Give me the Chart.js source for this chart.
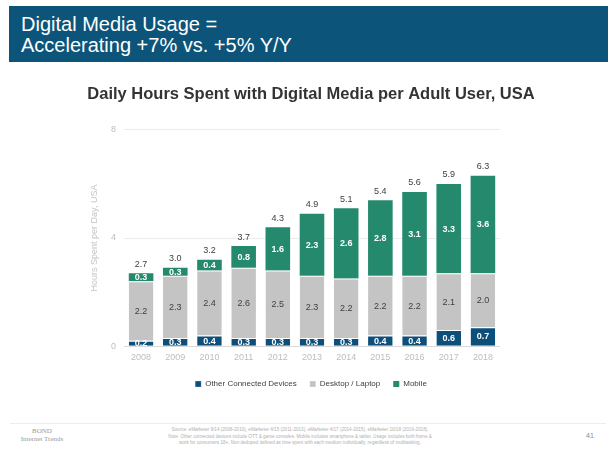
<!DOCTYPE html>
<html>
<head>
<meta charset="utf-8">
<script src="https://cdn.jsdelivr.net/npm/chart.js@4.4.1/dist/chart.umd.min.js"></script>
<style>
  body { margin: 0; background: #fff; font-family: "Liberation Sans", Arial, sans-serif; }
  #page { position: relative; width: 616px; height: 450px; overflow: hidden; }
  #header { position: absolute; left: 9px; top: 6px; width: 599px; height: 56px; background: #0c5479; }
  #header div { position: absolute; left: 12px; color: #fff; font-size: 20px; line-height: 22px; white-space: nowrap; }
  #chartBox { position: absolute; left: 40px; top: 82px; width: 542px; height: 318px; }
  #footLine { position: absolute; left: 10px; top: 423px; width: 596px; height: 1px; background: #ececec; }
  .foot { position: absolute; color: #b0b0b0; }
</style>
</head>
<body>
<div id="page">
  <div id="header">
    <div style="top:7px">Digital Media Usage =</div>
    <div style="top:28px">Accelerating +7% vs. +5% Y/Y</div>
  </div>
  <div id="chartBox"><canvas id="myChart"></canvas></div>
  <div id="footLine"></div>
  <div class="foot" style="left:20px;top:427px;width:44px;text-align:center;font-family:'Liberation Serif',serif;font-size:7px;line-height:8px;color:#9a9a9a">BOND<br>Internet Trends</div>
  <div class="foot" style="left:140px;top:427px;width:320px;text-align:center;font-size:4.6px;line-height:6.5px">
    Source: eMarketer 9/14 (2008-2010), eMarketer 4/15 (2011-2013), eMarketer 4/17 (2014-2015), eMarketer 10/18 (2016-2018).<br>
    Note: Other connected devices include OTT &amp; game consoles. Mobile includes smartphone &amp; tablet. Usage includes both home &amp;<br>
    work for consumers 18+. Non deduped defined as time spent with each medium individually, regardless of multitasking.
  </div>
  <div class="foot" style="left:586px;top:432px;font-size:7px;color:#8a8a8a">41</div>
</div>
<script>
'use strict';

let years = ['2008', '2009', '2010', '2011', '2012', '2013', '2014', '2015', '2016', '2017', '2018'];
let otherDevices = [0.2, 0.3, 0.4, 0.3, 0.3, 0.3, 0.3, 0.4, 0.4, 0.6, 0.7];
let desktopLaptop = [2.2, 2.3, 2.4, 2.6, 2.5, 2.3, 2.2, 2.2, 2.2, 2.1, 2.0];
let mobile = [0.3, 0.3, 0.4, 0.8, 1.6, 2.3, 2.6, 2.8, 3.1, 3.3, 3.6];
let totals = [2.7, 3.0, 3.2, 3.7, 4.3, 4.9, 5.1, 5.4, 5.6, 5.9, 6.3];
let yTicks = [0, 4, 8];

// labels inside the segments + totals on top
let barLabels = {
    id: 'barLabels',
    afterLayout(chart) {
        // pull the legend a bit closer to the axis
        chart.legend.top -= 2;
        chart.legend.bottom -= 2;
    },
    afterDatasetsDraw(chart) {
        let ctx = chart.ctx;
        ctx.save();
        ctx.textAlign = 'center';
        ctx.textBaseline = 'middle';
        chart.data.datasets.forEach(function (ds, di) {
            let meta = chart.getDatasetMeta(di);
            meta.data.forEach(function (bar, i) {
                let midY = (bar.y + bar.base) / 2;
                if (di === 1) {
                    ctx.font = '9px "Liberation Sans", Arial';
                    ctx.fillStyle = '#404040';
                } else {
                    ctx.font = 'bold 9px "Liberation Sans", Arial';
                    ctx.fillStyle = '#ffffff';
                }
                ctx.fillText(ds.data[i].toFixed(1), bar.x, midY + 0.5);
                if (di === chart.data.datasets.length - 1) {
                    ctx.font = '9px "Liberation Sans", Arial';
                    ctx.fillStyle = '#404040';
                    ctx.fillText(totals[i].toFixed(1), bar.x, bar.y - 9);
                }
            });
        });
        ctx.restore();
    }
};

let ctx = document.getElementById('myChart').getContext('2d');
let myChart = new Chart(ctx, {
    type: 'bar',
    data: {
        labels: years,
        datasets: [{
            label: 'Other Connected Devices',
            data: otherDevices,
            backgroundColor: '#0c4f7a',
            borderColor: '#ffffff',
            borderWidth: { top: 1 }
        },
        {
            label: 'Desktop / Laptop',
            data: desktopLaptop,
            backgroundColor: '#c4c4c4',
            borderColor: '#ffffff',
            borderWidth: { top: 1 }
        },
        {
            label: 'Mobile',
            data: mobile,
            backgroundColor: '#25896d',
            borderColor: '#ffffff',
            borderWidth: 0
        }]
    },
    options: {
        responsive: true,
        maintainAspectRatio: false,
        animation: false,
        plugins: {
            title: {
                display: true,
                text: 'Daily Hours Spent with Digital Media per Adult User, USA',
                color: '#333333',
                font: { size: 16.5, weight: 'bold', family: '"Liberation Sans", Arial' },
                padding: { top: 3, bottom: 25 }
            },
            legend: {
                position: 'bottom',
                labels: {
                    boxWidth: 6,
                    boxHeight: 6,
                    padding: 13,
                    color: '#404040',
                    font: { size: 8, family: '"Liberation Sans", Arial' }
                }
            },
            tooltip: { enabled: false }
        },
        scales: {
            x: {
                stacked: true,
                categoryPercentage: 0.8,
                barPercentage: 0.73,
                grid: { display: false, drawTicks: false },
                border: { display: false },
                ticks: { color: '#bdbdbd', font: { size: 9, family: '"Liberation Sans", Arial' }, padding: 6 }
            },
            y: {
                stacked: true,
                min: 0,
                max: 8,
                afterBuildTicks: function (axis) {
                    axis.ticks = yTicks.map(function (v) { return { value: v }; });
                },
                afterFit: function (axis) { axis.width = 84; },
                grid: {
                    color: function (c) { return c.tick && c.tick.value === 0 ? '#d9d9d9' : '#ececec'; },
                    drawTicks: false
                },
                border: { display: false },
                ticks: { color: '#bdbdbd', font: { size: 9, family: '"Liberation Sans", Arial' }, padding: 8 },
                title: {
                    display: true,
                    text: 'Hours Spent per Day, USA',
                    color: '#c4c4c4',
                    font: { size: 9, family: '"Liberation Sans", Arial' },
                    padding: { top: 49, bottom: 0 }
                }
            },
            // empty right axis, only keeps the plot away from the right edge
            yRight: {
                position: 'right',
                display: true,
                afterFit: function (axis) { axis.width = 82; },
                grid: { display: false, drawTicks: false },
                border: { display: false },
                ticks: { display: false }
            }
        }
    },
    plugins: [barLabels]
});
</script>
</body>
</html>
